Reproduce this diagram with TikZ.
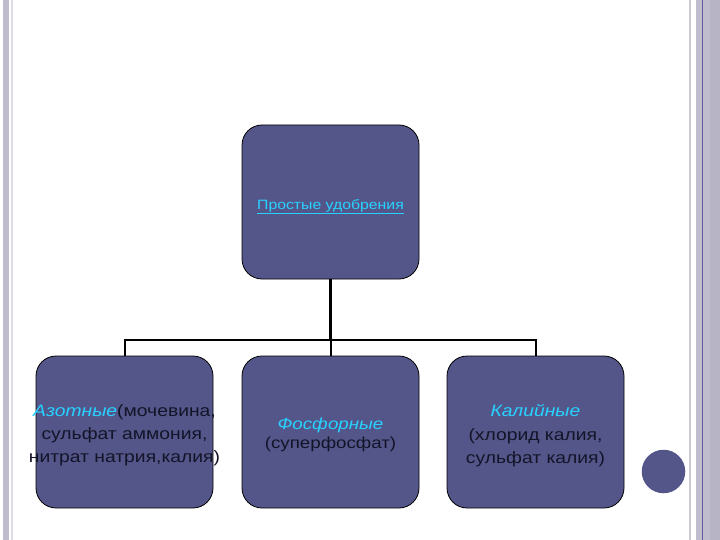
\documentclass[tikz,border=0pt]{standalone}
\usepackage{fontspec}
\setmainfont{Liberation Sans}[FakeStretch=1.17]
\definecolor{boxfill}{RGB}{84,86,138}
\definecolor{cyantxt}{RGB}{40,210,255}
\definecolor{stripgrey}{RGB}{190,188,205}
\definecolor{lightline}{RGB}{222,220,232}
\definecolor{purpleline}{RGB}{100,90,160}
\definecolor{txt}{RGB}{20,20,40}
\tikzset{
  orgbox/.style={draw=black, line width=0.8pt, fill=boxfill, rounded corners=20pt, minimum width=177pt, minimum height=152pt, inner sep=0pt},
  boxtext/.style={align=center, text=txt, inner sep=0pt},
  conn/.style={draw=black, line width=2pt},
}
\begin{document}
\begin{tikzpicture}[x=1pt,y=-1pt]
\useasboundingbox (0,0) rectangle (720,540);
\fill[white] (0,0) rectangle (720,540);
% page decorations
\fill[stripgrey] (3,0) rectangle (9,540);
\draw[lightline, line width=1.2pt] (12,0) -- (12,540);
\draw[lightline!80!gray, line width=1.5pt] (690,0) -- (690,540);
\fill[stripgrey] (696,0) rectangle (720,540);
\draw[purpleline, line width=1pt] (702.5,0) -- (702.5,540);
\fill[stripgrey!85!black, opacity=0.25] (710,0) rectangle (720,540);
% boxes
\node[orgbox, minimum height=154pt] (top) at (330.5,202) {};
\node[orgbox] (left) at (124.5,432) {};
\node[orgbox] (mid) at (330.5,432) {};
\node[orgbox] (right) at (535.5,432) {};
% texts
\node[boxtext, font=\fontsize{13.5}{16}\selectfont, text=cyantxt] (toptext) at (330.5,206.5) {\underline{Простые удобрения}};
\node[boxtext, font=\fontsize{16.5}{23}\selectfont] (lefttext) at (124.5,435.5) {\textcolor{cyantxt}{\itshape Азотные}(мочевина,\\сульфат аммония,\\нитрат натрия,калия)};
\node[boxtext, font=\fontsize{16}{19.5}\selectfont] (midtext) at (330.5,435) {\textcolor{cyantxt}{\itshape Фосфорные}\\(суперфосфат)};
\node[boxtext, font=\fontsize{16.5}{23.5}\selectfont] (righttext) at (535.5,436) {\textcolor{cyantxt}{\itshape Калийные}\\(хлорид калия,\\сульфат калия)};
% connectors
\coordinate (bar) at (330.5,340);
\draw[conn, line width=2.8pt] (top.south) -- (bar);
\draw[conn, line cap=rect] (left.north |- bar) -- (right.north |- bar);
\draw[conn] (left.north |- bar) -- (left.north);
\draw[conn] (bar) -- (mid.north);
\draw[conn] (right.north |- bar) -- (right.north);
% circle
\node[circle, fill=boxfill, minimum size=43.5pt, inner sep=0pt] (dot) at (663.5,471.5) {};
\end{tikzpicture}
\end{document}
